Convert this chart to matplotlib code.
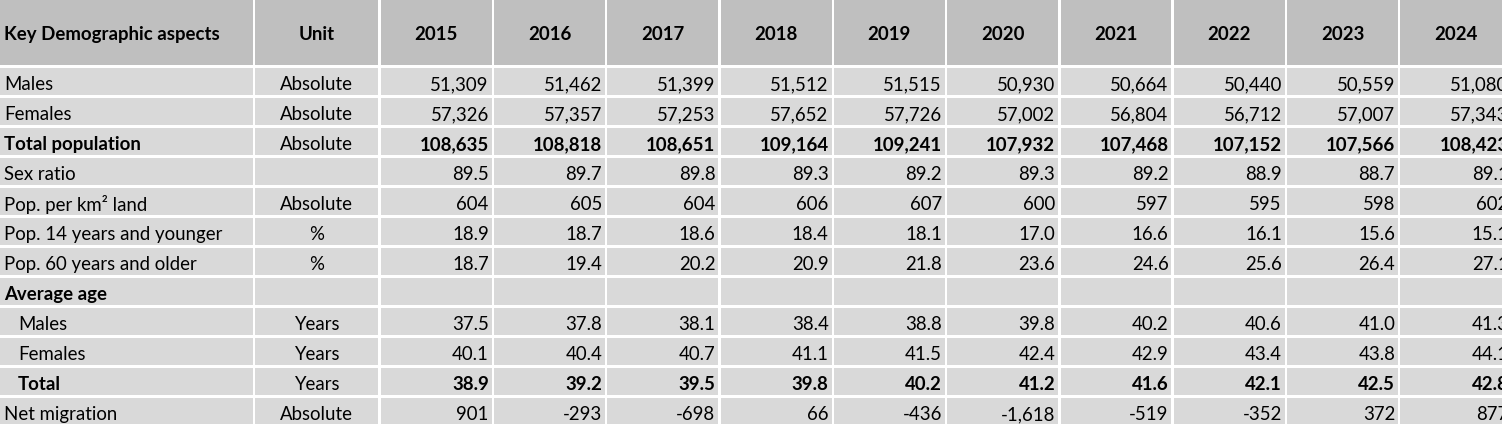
import matplotlib
matplotlib.use("Agg")
import matplotlib.pyplot as plt
from matplotlib.patches import Rectangle

years = ["2015", "2016", "2017", "2018", "2019", "2020", "2021", "2022", "2023", "2024"]
row_labels = ["Males", "Females", "Total population", "Sex ratio", "Pop. per km² land",
              "Pop. 14 years and younger", "Pop. 60 years and older", "Average age",
              "Males", "Females", "Total", "Net migration"]
units = ["Absolute", "Absolute", "Absolute", "", "Absolute", "%", "%", "",
         "Years", "Years", "Years", "Absolute"]
bold_rows = [False, False, True, False, False, False, False, True, False, False, True, False]
indent_rows = [False, False, False, False, False, False, False, False, True, True, True, False]

males = ["51,309", "51,462", "51,399", "51,512", "51,515", "50,930", "50,664", "50,440", "50,559", "51,080"]
females = ["57,326", "57,357", "57,253", "57,652", "57,726", "57,002", "56,804", "56,712", "57,007", "57,343"]
total_pop = ["108,635", "108,818", "108,651", "109,164", "109,241", "107,932", "107,468", "107,152", "107,566", "108,423"]
sex_ratio = ["89.5", "89.7", "89.8", "89.3", "89.2", "89.3", "89.2", "88.9", "88.7", "89.1"]
pop_density = ["604", "605", "604", "606", "607", "600", "597", "595", "598", "602"]
pop_14_younger = ["18.9", "18.7", "18.6", "18.4", "18.1", "17.0", "16.6", "16.1", "15.6", "15.1"]
pop_60_older = ["18.7", "19.4", "20.2", "20.9", "21.8", "23.6", "24.6", "25.6", "26.4", "27.1"]
avg_age_header = [""] * 10
avg_age_males = ["37.5", "37.8", "38.1", "38.4", "38.8", "39.8", "40.2", "40.6", "41.0", "41.3"]
avg_age_females = ["40.1", "40.4", "40.7", "41.1", "41.5", "42.4", "42.9", "43.4", "43.8", "44.1"]
avg_age_total = ["38.9", "39.2", "39.5", "39.8", "40.2", "41.2", "41.6", "42.1", "42.5", "42.8"]
net_migration = ["901", "-293", "-698", "66", "-436", "-1,618", "-519", "-352", "372", "877"]

values = [males, females, total_pop, sex_ratio, pop_density, pop_14_younger, pop_60_older,
          avg_age_header, avg_age_males, avg_age_females, avg_age_total, net_migration]

W, H = 1502, 424
fig = plt.figure(figsize=(W / 100, H / 100), dpi=100)
fig.patch.set_facecolor("white")
ax = fig.add_axes([0, 0, 1, 1])
ax.set_xlim(0, W)
ax.set_ylim(H, 0)
ax.axis("off")

FONT = "Lato"
FS = 13.4
header_bg = "#BFBFBF"
body_bg = "#D9D9D9"
gap = 1.2

col_w0, col_w1, col_wy = 254.0, 125.5, 113.3
x_edges = [-2, col_w0, col_w0 + col_w1]
for i in range(len(years)):
    x_edges.append(x_edges[-1] + col_wy)
header_bottom = 66.4
row_h = 30.0
y_edges = [-2, header_bottom] + [header_bottom + row_h * (k + 1) for k in range(len(row_labels))]

ncols = len(x_edges) - 1
for r in range(len(y_edges) - 1):
    y0, y1 = y_edges[r], y_edges[r + 1]
    color = header_bg if r == 0 else body_bg
    for c in range(ncols):
        x0, x1 = x_edges[c], x_edges[c + 1]
        ax.add_patch(Rectangle((x0 + gap, y0 + gap), (x1 - x0) - 2 * gap, (y1 - y0) - 2 * gap,
                               facecolor=color, edgecolor="none"))

# header
hy = (y_edges[0] + y_edges[1]) / 2 + 2
ax.text(4, hy, "Key Demographic aspects", ha="left", va="center", fontsize=FS,
        fontweight="bold", family=FONT, color="black")
ax.text((x_edges[1] + x_edges[2]) / 2, hy, "Unit", ha="center", va="center", fontsize=FS,
        fontweight="bold", family=FONT, color="black")
for i, yr in enumerate(years):
    ax.text((x_edges[2 + i] + x_edges[3 + i]) / 2, hy, yr, ha="center", va="center",
            fontsize=FS, fontweight="bold", family=FONT, color="black")

for r, label in enumerate(row_labels):
    yc = (y_edges[r + 1] + y_edges[r + 2]) / 2 + 3.5
    fw = "bold" if bold_rows[r] else "normal"
    ax.text(18 if indent_rows[r] else 4, yc, label, ha="left", va="center", fontsize=FS,
            fontweight=fw, family=FONT, color="black")
    ax.text((x_edges[1] + x_edges[2]) / 2, yc, units[r], ha="center", va="center",
            fontsize=FS, family=FONT, color="black")
    for i, v in enumerate(values[r]):
        ax.text(x_edges[3 + i] - 4, yc, v, ha="right", va="center", fontsize=FS,
                fontweight=fw, family=FONT, color="black")

fig.savefig("out.png", dpi=100, facecolor="white")
